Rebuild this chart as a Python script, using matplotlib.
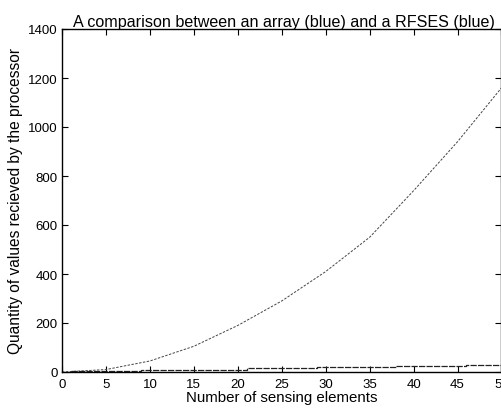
import matplotlib
matplotlib.use("Agg")
import matplotlib.pyplot as plt

# Array: number of values received grows roughly quadratically
array_n = [0, 5, 10, 15, 20, 25, 30, 35, 40, 45, 50]
array_values = [0, 10, 45, 105, 190, 290, 410, 550, 740, 940, 1160]

# RFSES: grows in small steps
rfses_n = [1, 9, 21, 29, 38, 46, 50]
rfses_values = [5, 10, 15, 20, 25, 30, 30]

x_ticks = [0, 5, 10, 15, 20, 25, 30, 35, 40, 45, 50]
y_ticks = [0, 200, 400, 600, 800, 1000, 1200, 1400]

plt.rcParams["font.family"] = ["Liberation Sans", "DejaVu Sans"]

W, H = 501, 410
fig = plt.figure(figsize=(W / 100, H / 100), dpi=100)
left, right, top, bottom = 62, 501.5, 30, 373
ax = fig.add_axes([left / W, 1 - bottom / H, (right - left) / W, (bottom - top) / H])

ax.plot(array_n, array_values, color="#444444", lw=0.7, linestyle=(0, (2.5, 1.5)))
ax.step(rfses_n, rfses_values, where="post", color="#222222", lw=0.9,
        linestyle=(0, (5, 1)))

ax.set_xlim(0, 50)
ax.set_ylim(0, 1400)
ax.set_xticks(x_ticks)
ax.set_yticks(y_ticks)
ax.tick_params(direction="in", top=True, right=True, length=4, width=0.8,
               labelsize=9.5, colors="black")
ax.tick_params(axis="x", pad=4)
ax.tick_params(axis="y", pad=3)
for s in ax.spines.values():
    s.set_linewidth(1.0)
    s.set_color("black")

ax.set_title("A comparison between an array (blue) and a RFSES (blue)",
             fontsize=11.6, pad=2, x=0.505)
ax.set_xlabel("Number of sensing elements", fontsize=10.8, labelpad=0)
ax.set_ylabel("Quantity of values recieved by the processor", fontsize=11.2,
              labelpad=4)

fig.savefig("out.png", dpi=100)
